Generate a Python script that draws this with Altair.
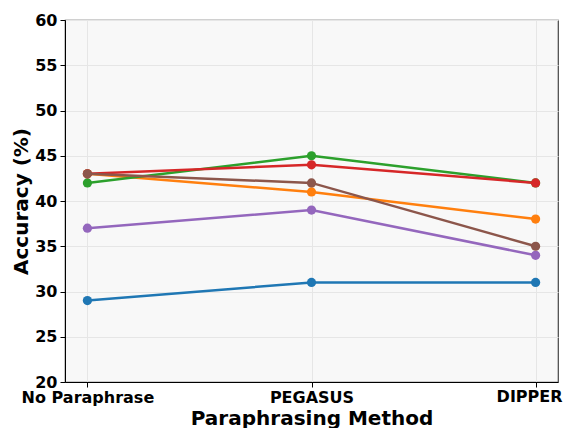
import altair as alt
import pandas as pd

methods = ["No Paraphrase", "PEGASUS", "DIPPER"]
series_names = ["S1", "S2", "S3", "S4", "S5", "S6"]
series_values = [
    [29, 31, 31],
    [43, 41, 38],
    [42, 45, 42],
    [43, 44, 42],
    [37, 39, 34],
    [43, 42, 35],
]
colors = ["#1f77b4", "#ff7f0e", "#2ca02c", "#d62728", "#9467bd", "#8c564b"]

rows = []
for i, (name, vals) in enumerate(zip(series_names, series_values)):
    for m, v in zip(methods, vals):
        rows.append({"series": name, "order": i, "method": m, "acc": v})
df = pd.DataFrame(rows)

FONT = "DejaVu Sans"
last = methods[-1]

x = alt.X("method:N", sort=methods, scale=alt.Scale(type="point", padding=0.1),
          axis=alt.Axis(title="Paraphrasing Method", labelAngle=0, labelFontWeight="bold",
                        labelFontSize=16, titleFontSize=20, titleFontWeight="bold",
                        labelColor="black", titleColor="black", grid=True,
                        gridColor="#e6e6e6", domainColor="black", tickColor="black",
                        tickSize=5, labelPadding=2, titlePadding=3, labelFont=FONT, titleFont=FONT,
                        labelExpr=f"datum.value == '{last}' ? '' : datum.label"))
y = alt.Y("acc:Q", scale=alt.Scale(domain=[20, 60], nice=False, zero=False),
          axis=alt.Axis(title="Accuracy (%)", values=list(range(20, 61, 5)),
                        labelFontWeight="bold", labelFontSize=16, titleFontSize=20,
                        titleFontWeight="bold", labelColor="black", titleColor="black",
                        grid=True, gridColor="#e6e6e6", domainColor="black",
                        tickColor="black", tickSize=5, labelPadding=3, titlePadding=3,
                        labelFont=FONT, titleFont=FONT))
color = alt.Color("series:N", scale=alt.Scale(domain=series_names, range=colors), legend=None)

layers = []
for i, name in enumerate(series_names):
    sub = df[df.series == name]
    base = alt.Chart(sub)
    layers.append(base.mark_line(strokeWidth=2.5).encode(x=x, y=y, color=color))
    layers.append(base.mark_circle(size=85, opacity=1).encode(x=x, y=y, color=color))

lab = alt.Chart(pd.DataFrame({"method": [last]})).mark_text(
    font=FONT, fontSize=16, fontWeight="bold", color="black",
    baseline="top", align="center", dx=-6
).encode(x=alt.X("method:N", sort=methods), y=alt.value(369), text="method:N")
layers.append(lab)

chart = alt.layer(*layers).properties(
    width=493, height=362,
    autosize=alt.AutoSizeParams(type="none"),
    padding={"left": 57, "top": 12, "right": 5, "bottom": 46},
).configure_view(fill="#f8f8f8", stroke="#444444", strokeWidth=1.2)

chart.save("out.html", embed_options={"renderer": "svg", "actions": False})
